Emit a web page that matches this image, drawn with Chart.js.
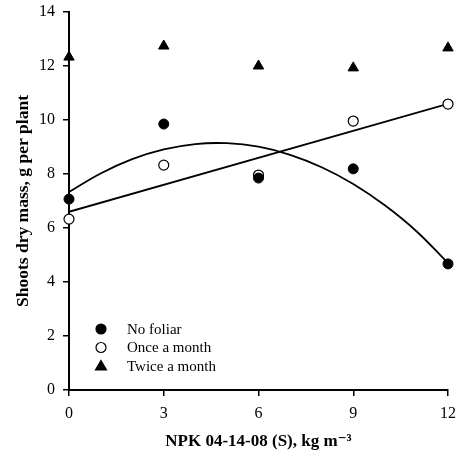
<!DOCTYPE html>
<html>
<head>
<meta charset="utf-8">
<script src="https://cdn.jsdelivr.net/npm/chart.js@4"></script>
<style>
  html, body { margin: 0; padding: 0; background: #fff; }
  #wrap { width: 458px; height: 461px; }
</style>
</head>
<body>
<div id="wrap"><canvas id="myChart"></canvas></div>
<script>
// values
var npkDoses = [0, 3, 6, 9, 12];
var noFoliar = [7.07, 9.85, 7.85, 8.19, 4.67];
var onceMonth = [6.33, 8.33, 7.96, 9.96, 10.59];
var twiceMonth = [12.33, 12.74, 12.0, 11.93, 12.67];

// fitted curves
var curveX = [0, 1, 2, 3, 4, 5, 6, 7, 8, 9, 10, 11, 12];
var curveNoFoliar = [7.33, 8.02, 8.55, 8.91, 9.11, 9.14, 9.01, 8.71, 8.25, 7.63, 6.84, 5.88, 4.70];
var lineX = [0, 12];
var lineOnce = [6.6, 10.6];

var yTicks = [0, 2, 4, 6, 8, 10, 12, 14];

function pts(xs, ys) {
  return xs.map(function (x, i) { return { x: x, y: ys[i] }; });
}

var serif = "'Liberation Serif', 'DejaVu Serif', serif";

// legend drawn inside the plot, lower left
var innerLegend = {
  id: 'innerLegend',
  afterDraw: function (chart) {
    var c = chart.ctx;
    var rows = chart.data.datasets.filter(function (d) { return d.inLegend; });
    c.save();
    rows.forEach(function (d, i) {
      var x = 101, y = 329 + i * 18.5;
      c.lineWidth = 1.2;
      c.strokeStyle = '#000';
      c.fillStyle = d.backgroundColor;
      c.beginPath();
      if (d.pointStyle === 'triangle') {
        c.moveTo(x, y - 5.5); c.lineTo(x + 5.5, y + 4); c.lineTo(x - 5.5, y + 4); c.closePath();
      } else {
        c.arc(x, y, 5, 0, Math.PI * 2);
      }
      c.fill(); c.stroke();
      c.fillStyle = '#000';
      c.font = '15px ' + serif;
      c.textBaseline = 'middle';
      c.fillText(d.label, 127, y + 1);
    });
    c.restore();
  }
};

var ctx = document.getElementById('myChart').getContext('2d');
new Chart(ctx, {
  type: 'scatter',
  data: {
    datasets: [
      {
        label: 'No foliar',
        data: pts(npkDoses, noFoliar),
        pointStyle: 'circle',
        pointRadius: 5,
        backgroundColor: '#000',
        borderColor: '#000',
        borderWidth: 1,
        clip: false,
        inLegend: true
      },
      {
        label: 'Once a month',
        data: pts(npkDoses, onceMonth),
        pointStyle: 'circle',
        pointRadius: 5,
        backgroundColor: '#fff',
        borderColor: '#000',
        borderWidth: 1.2,
        clip: false,
        inLegend: true
      },
      {
        label: 'Twice a month',
        data: pts(npkDoses, twiceMonth),
        pointStyle: 'triangle',
        pointRadius: 6,
        backgroundColor: '#000',
        borderColor: '#000',
        borderWidth: 1,
        clip: false,
        inLegend: true
      },
      {
        label: 'fit no foliar',
        data: pts(curveX, curveNoFoliar),
        showLine: true,
        tension: 0.4,
        pointRadius: 0,
        borderColor: '#000',
        borderWidth: 1.8,
        order: 5
      },
      {
        label: 'fit once',
        data: pts(lineX, lineOnce),
        showLine: true,
        pointRadius: 0,
        borderColor: '#000',
        borderWidth: 1.8,
        order: 5
      }
    ]
  },
  options: {
    responsive: true,
    maintainAspectRatio: false,
    animation: false,
    layout: { padding: { left: 0, right: 10, top: 12, bottom: 0 } },
    plugins: {
      legend: { display: false },
      tooltip: { enabled: false }
    },
    scales: {
      x: {
        type: 'linear',
        min: 0,
        max: 12,
        ticks: { stepSize: 3, color: '#000', font: { family: serif, size: 16 }, padding: 8 },
        grid: { drawOnChartArea: false, color: '#000', tickLength: 6, lineWidth: 1.5 },
        border: { color: '#000', width: 2 },
        title: {
          display: true,
          text: 'NPK 04-14-08 (S), kg m⁻³',
          color: '#000',
          font: { family: serif, size: 17, weight: 'bold' },
          padding: { top: 10, bottom: 9 }
        },
        afterFit: function (s) { s.height = 71; s.paddingRight = 0; s.paddingLeft = 0; }
      },
      y: {
        min: 0,
        max: 14,
        afterBuildTicks: function (s) { s.ticks = yTicks.map(function (v) { return { value: v }; }); },
        ticks: { color: '#000', font: { family: serif, size: 16 }, padding: 8 },
        grid: { drawOnChartArea: false, color: '#000', tickLength: 6, lineWidth: 1.5 },
        border: { color: '#000', width: 2 },
        title: {
          display: true,
          text: 'Shoots dry mass, g per plant',
          color: '#000',
          font: { family: serif, size: 17.5, weight: 'bold' },
          padding: { top: 13, bottom: 4 }
        },
        afterFit: function (s) { s.width = 69; s.paddingTop = 0; s.paddingBottom = 0; }
      }
    }
  },
  plugins: [innerLegend]
});
</script>
</body>
</html>
